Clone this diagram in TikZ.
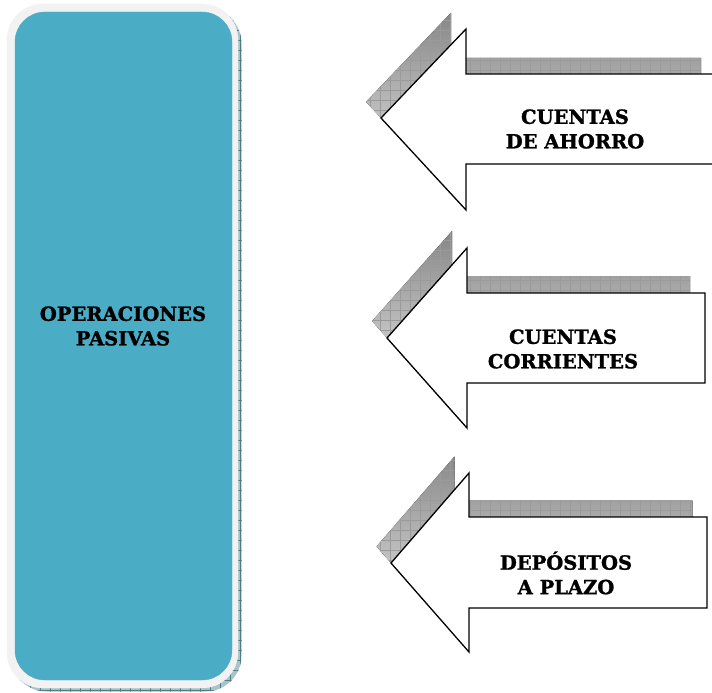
\documentclass[tikz,border=0pt]{standalone}
\usepackage{fontspec}
\setmainfont{DejaVu Serif}[BoldFeatures={FakeBold=1.3}]
\usepackage{xcolor}
\definecolor{highlight}{HTML}{4BACC6}
\definecolor{rim}{HTML}{F2F2F2}
\definecolor{boxshade}{HTML}{A9C3CA}
\definecolor{boxline}{HTML}{4E7C88}
\definecolor{shade}{HTML}{D0D0D0}
\definecolor{shadeline}{HTML}{9A9A9A}
\tikzset{
	caption/.style={font=\bfseries\fontsize{19.5}{24.5}\selectfont, align=center, text=black},
	arrowbox/.style={draw=black, fill=white, line width=1.3pt, miter limit=20}
}

\begin{document}
\begin{tikzpicture}[x=1pt, y=-1pt]
	\useasboundingbox (0,0) rectangle (712,693);
	
	% left box, shadow
	\begin{scope}
		\clip[rounded corners=36pt] (10.5,7.5) rectangle (241.5,691.5);
		\fill[boxshade] (0,0) rectangle (250,693);
		\draw[boxline, step=10pt, line width=0.4pt] (0,0) grid (250,693);
	\end{scope}
	\filldraw[rim, rounded corners=36pt] (7,4) rectangle (238,688);
	\filldraw[highlight, rounded corners=30pt] (15,12) rectangle (232,680);
	\node[caption] (pasivas) at (123,326) {OPERACIONES\\PASIVAS};
	
	% top arrow
	\begin{scope}
		\clip[shift={(-15,-16.2)}] (381,118) -- (466,29) -- (466,74) -- (716,74) -- (716,164) -- (466,164) -- (466,210) -- cycle;
		\fill[shade] (340,0) rectangle (712,230);
		\draw[shadeline, step=10pt, line width=0.25pt] (340,0) grid (712,230);
	\end{scope}
	\filldraw[arrowbox] (381,118) -- (466,29) -- (466,74) -- (716,74) -- (716,164) -- (466,164) -- (466,210) -- cycle;
	\node[caption] (ahorro) at (575,129) {CUENTAS\\DE AHORRO};
	
	% middle arrow
	\begin{scope}
		\clip[shift={(-15,-16.9)}] (387,338) -- (467,248) -- (467,293) -- (705,293) -- (705,383) -- (467,383) -- (467,428) -- cycle;
		\fill[shade] (340,220) rectangle (712,440);
		\draw[shadeline, step=10pt, line width=0.25pt] (340,220) grid (712,440);
	\end{scope}
	\filldraw[arrowbox] (387,338) -- (467,248) -- (467,293) -- (705,293) -- (705,383) -- (467,383) -- (467,428) -- cycle;
	\node[caption] (corrientes) at (563,349) {CUENTAS\\CORRIENTES};
	
	% bottom arrow
	\begin{scope}
		\clip[shift={(-14.5,-16.5)}] (391,563) -- (469,473) -- (469,517) -- (707,517) -- (707,608) -- (469,608) -- (469,652) -- cycle;
		\fill[shade] (340,440) rectangle (712,670);
		\draw[shadeline, step=10pt, line width=0.25pt] (340,440) grid (712,670);
	\end{scope}
	\filldraw[arrowbox] (391,563) -- (469,473) -- (469,517) -- (707,517) -- (707,608) -- (469,608) -- (469,652) -- cycle;
	\node[caption] (plazo) at (566,573) {DEPÓSITOS\\A PLAZO};
	
\end{tikzpicture}
\end{document}
